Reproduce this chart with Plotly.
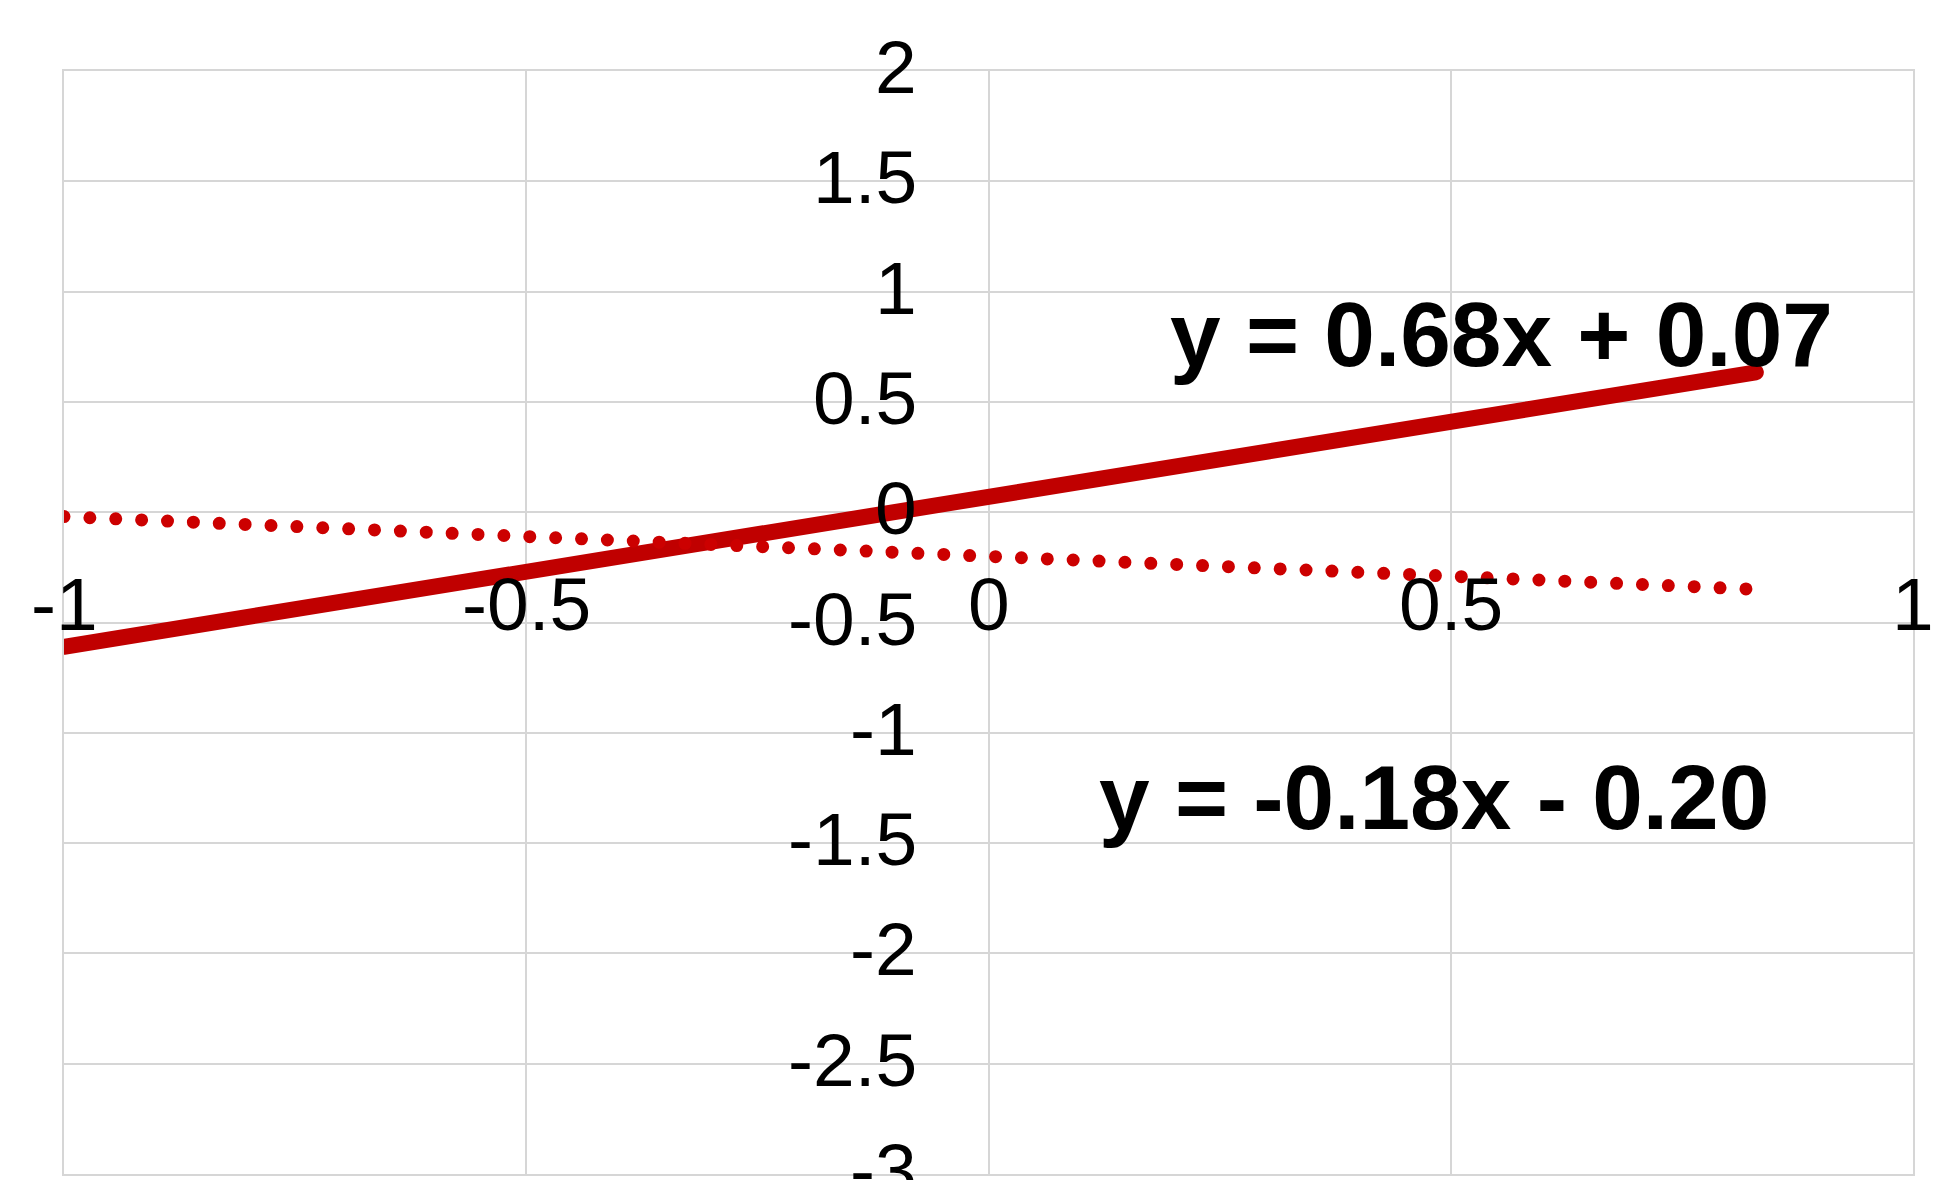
import plotly.graph_objects as go

# ---- data ----
solid_x = [-1.0, 0.83]
solid_y = [-0.61, 0.634]          # trendline y = 0.68x + 0.07
dotted_x = [-1.0, 0.826]
dotted_y = [-0.02, -0.349]        # trendline y = -0.18x - 0.20

eq_solid = "y = 0.68x + 0.07"
eq_dotted = "y = -0.18x - 0.20"
eq_solid_pos = (0.555, 0.807)
eq_dotted_pos = (0.482, -1.292)

x_ticks = [-1, -0.5, 0, 0.5, 1]
x_tick_labels = ["-1", "-0.5", "0", "0.5", "1"]
y_ticks = [2, 1.5, 1, 0.5, 0, -0.5, -1, -1.5, -2, -2.5, -3]
y_tick_labels = ["2", "1.5", "1", "0.5", "0", "-0.5", "-1", "-1.5", "-2", "-2.5", "-3"]

GRID = "#d6d6d6"
FONT = "Liberation Sans, Arial, sans-serif"

fig = go.Figure()
fig.add_trace(go.Scatter(x=solid_x, y=solid_y, mode="lines",
                         line=dict(color="#c00000", width=16),
                         hoverinfo="skip", showlegend=False))
fig.add_trace(go.Scatter(x=dotted_x, y=dotted_y, mode="lines",
                         line=dict(color="#cc0000", width=13, dash="0px,25.9px"),
                         hoverinfo="skip", showlegend=False))

annotations = []
for v, t in zip(x_ticks, x_tick_labels):
    annotations.append(dict(x=v, y=0, xref="x", yref="y", text=t, showarrow=False,
                            xanchor="center", yanchor="middle", yshift=-92,
                            font=dict(family=FONT, size=75, color="#000000")))
for v, t in zip(y_ticks, y_tick_labels):
    annotations.append(dict(x=0, y=v, xref="x", yref="y", text=t, showarrow=False,
                            xanchor="right", yanchor="middle", xshift=-70, yshift=4,
                            font=dict(family=FONT, size=75, color="#000000")))
for (px, py), t in [(eq_solid_pos, eq_solid), (eq_dotted_pos, eq_dotted)]:
    annotations.append(dict(x=px, y=py, xref="x", yref="y", text="<b>" + t + "</b>",
                            showarrow=False, xanchor="center", yanchor="middle",
                            font=dict(family=FONT, size=91, color="#000000")))

axis_common = dict(showticklabels=False, ticks="", showgrid=True, gridcolor=GRID,
                   gridwidth=2, zeroline=True, zerolinecolor=GRID, zerolinewidth=2,
                   showline=True, linecolor=GRID, linewidth=2, mirror=True)

# page body has an 8px default margin, so the figure is 8px smaller each way
fig.update_layout(
    width=1952, height=1172,
    margin=dict(l=56, r=47, t=63, b=6, pad=0),
    paper_bgcolor="white", plot_bgcolor="white",
    xaxis=dict(range=[-1, 1], tickvals=x_ticks, **axis_common),
    yaxis=dict(range=[-3, 2], tickvals=y_ticks, **axis_common),
    annotations=annotations,
    showlegend=False,
)

post = """
var gd = document.getElementById('{plot_id}');
gd.querySelectorAll('.scatterlayer path.js-line').forEach(function(p){
  p.style.strokeLinecap = 'round';
});
"""
fig.write_html("out.html", post_script=post, config={"displayModeBar": False})
